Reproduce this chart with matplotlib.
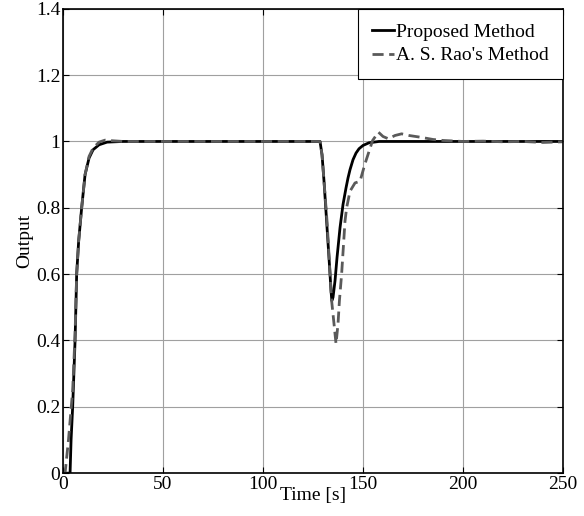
import matplotlib
matplotlib.use('Agg')
import matplotlib.pyplot as plt

plt.rcParams.update({
    'font.family': 'Liberation Serif',
    'font.size': 14,
    'xtick.direction': 'in',
    'ytick.direction': 'in',
    'xtick.top': True,
    'ytick.right': True,
})

# Proposed method
t_prop = [0, 3.5, 4.0, 4.8, 6.0, 6.8, 7.8, 9.3, 11, 13, 15, 18, 22, 30,
          128.5, 129.5, 130.5, 131.8, 133.3, 134.0, 134.4, 135.0, 136, 137, 138.5,
          140, 141.5, 142.5, 143.5, 145, 146.5, 148, 150, 153, 158, 250]
y_prop = [0, 0, 0.1, 0.2, 0.4, 0.6, 0.7, 0.8, 0.9, 0.95, 0.975, 0.99, 0.998, 1.0,
          1.0, 0.96, 0.88, 0.76, 0.62, 0.55, 0.52, 0.53, 0.58, 0.65, 0.74,
          0.81, 0.86, 0.89, 0.915, 0.945, 0.965, 0.978, 0.988, 0.996, 1.0, 1.0]

# A. S. Rao's method
t_rao = [0, 1.0, 2.7, 4.8, 6.0, 6.8, 7.8, 9.3, 11, 13, 15, 18, 21, 25, 30,
         128.5, 129.5, 130.5, 132, 134.3, 135.5, 136.5, 137.5, 138.2, 139.3, 141, 141.8,
         143.5, 146, 148.5, 151, 154.8, 157.7, 160, 162.7, 166, 169.3, 173,
         178.5, 185, 190, 200, 210, 220, 230, 240, 250]
y_rao = [0, 0, 0.1, 0.25, 0.42, 0.6, 0.7, 0.8, 0.9, 0.955, 0.98, 0.998, 1.004, 1.002, 1.0,
         1.0, 0.96, 0.88, 0.76, 0.52, 0.45, 0.39, 0.45, 0.52, 0.6, 0.76, 0.8,
         0.85, 0.875, 0.88, 0.933, 1.003, 1.028, 1.015, 1.008, 1.018, 1.023, 1.018,
         1.013, 1.006, 1.003, 1.0, 1.001, 0.999, 1.0, 0.997, 0.999]

fig = plt.figure(figsize=(5.84, 5.16), dpi=100)
ax = fig.add_axes([0.108, 0.083, 0.856, 0.9])

ax.plot(t_prop, y_prop, color='black', linewidth=2, label='Proposed Method')
ax.plot(t_rao, y_rao, color='#5a5a5a', linewidth=2, linestyle=(0, (4, 2)),
        label="A. S. Rao's Method")

ax.set_xlim(0, 250)
ax.set_ylim(0, 1.4)
ax.set_xticks([0, 50, 100, 150, 200, 250])
ax.set_yticks([0, 0.2, 0.4, 0.6, 0.8, 1.0, 1.2, 1.4])
ax.set_yticklabels(['0', '0.2', '0.4', '0.6', '0.8', '1', '1.2', '1.4'])
ax.grid(True, color='#a0a0a0', linewidth=0.8)
ax.tick_params(length=4, width=0.8)
ax.tick_params(axis='x', pad=2)
ax.tick_params(axis='y', pad=2)
for s in ax.spines.values():
    s.set_linewidth(1.2)

ax.set_xlabel('Time [s]', labelpad=-4)
ax.set_ylabel('Output', labelpad=2)

leg = ax.legend(loc='upper right', borderaxespad=0, fancybox=False,
                edgecolor='black', framealpha=1, handlelength=1.1,
                handletextpad=0.1, borderpad=0.75, labelspacing=0.3)
leg.get_frame().set_linewidth(0.8)

plt.savefig('out.png')
